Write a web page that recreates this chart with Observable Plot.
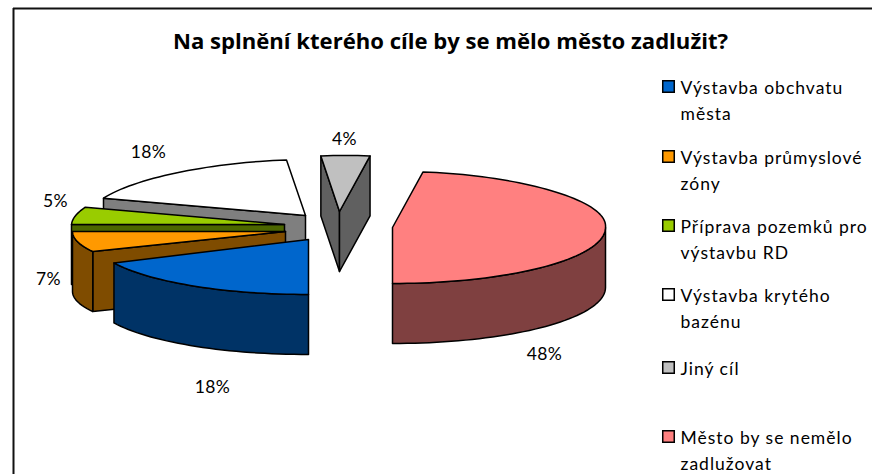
<!DOCTYPE html>
<html lang="cs">
<head>
<meta charset="utf-8">
<script src="https://cdn.jsdelivr.net/npm/d3@7"></script>
<script src="https://cdn.jsdelivr.net/npm/@observablehq/plot@0.6"></script>
<style>
  html, body { margin: 0; padding: 0; background: #fff; overflow: hidden; }
  svg { display: block; }
  .legend-text text { letter-spacing: 1px; }
  .pct-text text { letter-spacing: 0.4px; }
</style>
</head>
<body>
<div id="chart"></div>
<script>
const title = "Na splnění kterého cíle by se mělo město zadlužit?";
const categories = [
  "Výstavba obchvatu\nměsta",
  "Výstavba průmyslové\nzóny",
  "Příprava pozemků pro\nvýstavbu RD",
  "Výstavba krytého\nbazénu",
  "Jiný cíl",
  "Město by se nemělo\nzadlužovat"
];
const values = [18, 7, 5, 18, 4, 48];
const colors = ["#0066cc", "#ff9900", "#99cc00", "#ffffff", "#c0c0c0", "#ff8080"];
const wallColors = ["#003366", "#7f4c00", "#4c6600", "#7f7f7f", "#606060", "#7f4040"];

// Drawing parameters (pie projection and how far each slice is pulled out)
const W = 872, H = 474;
const DEPTH = 60;
const sliceCx = [308, 285, 284, 305, 339, 392];
const sliceCy = [239, 231, 224, 215, 211, 227];
const sliceRx = [215, 213, 213, 216, 213, 213];
const sliceRy = [55, 47, 56, 56, 56, 56];
const labelX = [212, 48, 55, 148, 344, 544];
const labelY = [387, 279, 201, 152, 139, 354];
const legendSwatchY = [86, 156, 225, 294, 367, 436];
const paintOrder = [3, 2, 1, 0, 4, 5];

const rad = d => d * Math.PI / 180;
function pt(i, deg, h) {
  const s = Math.sin(rad(deg)), c = Math.cos(rad(deg));
  const back = Math.max(c, 0);
  return {
    x: sliceCx[i] + sliceRx[i] * s * (1 - 0.08 * back * back) + 6 * back,
    y: sliceCy[i] - sliceRy[i] * c + h
  };
}
function arc(i, a, b, h) {
  const n = Math.max(2, Math.ceil(Math.abs(b - a) / 2));
  return d3.range(n + 1).map(k => pt(i, a + (b - a) * k / n, h));
}

const total = d3.sum(values);
let acc = 180;
const slices = values.map((v, i) => {
  const start = acc;
  acc += v / total * 360;
  return {i, start, end: acc};
});

const polys = [];
function addPoly(points, fill) {
  const id = polys.length ? polys[polys.length - 1].id + 1 : 0;
  [...points, points[0]].forEach(p => polys.push({...p, id, fill}));
}
const norm = d => ((d % 360) + 360) % 360;
for (const idx of paintOrder) {
  const {i, start, end} = slices[idx];
  const apex = {x: sliceCx[i], y: sliceCy[i]};
  const apexLow = {x: apex.x, y: apex.y + DEPTH};
  const a = norm(start), b = norm(end);
  if (a > 180 && a < 360) {
    addPoly([apex, pt(i, start, 0), pt(i, start, DEPTH), apexLow], wallColors[i]);
  }
  if (b > 0 && b < 180) {
    addPoly([apex, pt(i, end, 0), pt(i, end, DEPTH), apexLow], wallColors[i]);
  }
  // the front half of the rim (90..270 degrees, once per turn) shows a side wall
  for (const turn of [0, 360]) {
    const w0 = Math.max(start, 90 + turn), w1 = Math.min(end, 270 + turn);
    if (w1 > w0) addPoly([...arc(i, w0, w1, 0), ...arc(i, w1, w0, DEPTH)], wallColors[i]);
  }
  addPoly([apex, ...arc(i, start, end, 0)], colors[i]);
}

const labels = values.map((v, i) => ({t: v + "%", x: labelX[i], y: labelY[i]}));
const legend = categories.map((name, i) => ({name, color: colors[i], y: legendSwatchY[i]}));

const plot = Plot.plot({
  width: W, height: H,
  margin: 0,
  x: {domain: [0, W], range: [0, W], axis: null},
  y: {domain: [0, H], range: [0, H], axis: null},
  color: {type: "identity"},
  style: {fontFamily: "Lato, sans-serif", background: "#fff", color: "#000"},
  marks: [
    Plot.ruleY([8], {x1: 13, x2: W, stroke: "#111", strokeWidth: 2}),
    Plot.ruleX([13], {y1: 8, y2: H, stroke: "#111", strokeWidth: 2}),
    Plot.line(polys, {x: "x", y: "y", z: "id", fill: "fill", stroke: "#000", strokeWidth: 1.5, strokeLinejoin: "round"}),
    Plot.text([title], {x: 450, y: 41, text: d => d, fontFamily: "'Open Sans', sans-serif", fontSize: 22.1, fontWeight: 700, fill: "#000", textAnchor: "middle", lineAnchor: "middle"}),
    Plot.text(labels, {x: "x", y: "y", text: "t", fontSize: 17.5, fill: "#000", textAnchor: "middle", lineAnchor: "middle", className: "pct-text"}),
    Plot.dot(legend, {x: 668, y: "y", symbol: "square", r: 6.5, fill: "color", stroke: "#000", strokeWidth: 1.5}),
    Plot.text(legend, {x: 680, y: d => d.y - 11.5, text: "name", fontSize: 17.5, lineHeight: 1.49, fill: "#000", textAnchor: "start", lineAnchor: "top", className: "legend-text"})
  ]
});
document.getElementById("chart").append(plot);
</script>
</body>
</html>
